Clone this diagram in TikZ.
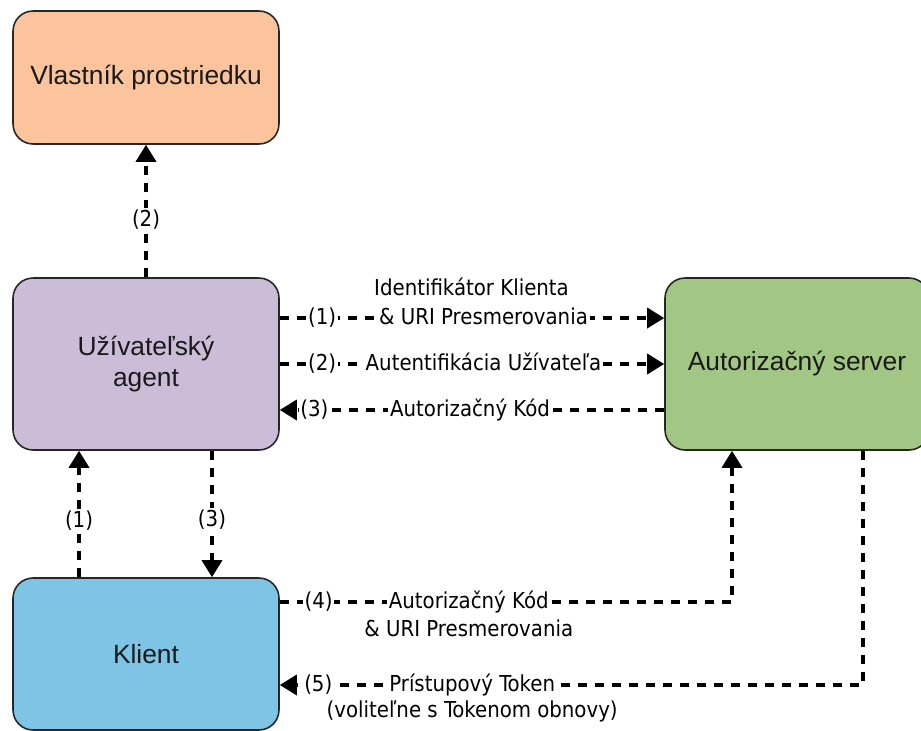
\documentclass[tikz,border=0pt]{standalone}
\usepackage{fontspec}
\setmainfont{Liberation Sans}
\newfontfamily\lblfont{DejaVu Sans Condensed}
\usetikzlibrary{arrows.meta,positioning}

\definecolor{ownerfill}{HTML}{FBC49C}
\definecolor{agentfill}{HTML}{CBBDD8}
\definecolor{serverfill}{HTML}{A2C683}
\definecolor{clientfill}{HTML}{7EC4E4}

\begin{document}
\begin{tikzpicture}
[
x=0.02cm, y=-0.02cm,
actor/.style={draw=black!85, line width=0.9pt, rounded corners=0.4cm,
              minimum width=5.32cm, align=center, text=black!90,
              font=\fontsize{15}{18}\selectfont},
flow/.style={line width=2pt, dash pattern=on 0.19cm off 0.15cm,
             -{Triangle[width=0.4cm,length=0.34cm]}},
lbl/.style={fill=white, inner sep=1pt, text height=9.5pt, text depth=2.5pt,
            font=\lblfont\fontsize{12.5}{15}\selectfont},
lbltxt/.style={lbl, fill=none},
]
\useasboundingbox (0,0) rectangle (921,731);

%Place the nodes
\node[actor, fill=ownerfill, minimum height=2.66cm] (owner) at (146,77.5) {Vlastník prostriedku};
\node[actor, fill=agentfill, minimum height=3.44cm] (agent) at (146,364) {Užívateľský\\agent};
\node[actor, fill=serverfill, minimum height=3.44cm, minimum width=5.28cm] (server) at (797,364) {Autorizačný server};
\node[actor, fill=clientfill, minimum height=3.04cm] (client) at (146,654) {Klient};

%Agent and owner
\draw[flow] (agent.north) -- (owner.south) node[lbl, pos=0.43] {(2)};

%Client and agent
\draw[flow] ([xshift=-1.34cm]client.north) -- ([xshift=-1.34cm]agent.south) node[lbl, pos=0.44] {(1)};
\draw[flow] ([xshift=1.32cm]agent.south) -- ([xshift=1.32cm]client.north) node[lbl, pos=0.55] {(3)};

%Agent and server
\draw[flow] ([yshift=0.92cm]agent.east) -- ([yshift=0.92cm]agent.east -| server.west)
  node[lbl, pos=0.11] {(1)}
  node[lbl, pos=0.53] (uri1) {\& URI Presmerovania};
\node[lbltxt, above=1pt of uri1, xshift=-0.24cm] (id1) {Identifikátor Klienta};
\draw[flow] (agent.east) -- (agent.east -| server.west)
  node[lbl, pos=0.11] {(2)}
  node[lbl, pos=0.53] {Autentifikácia Užívateľa};
\draw[flow] ([yshift=-0.92cm]server.west) -- ([yshift=-0.92cm]server.west -| agent.east)
  node[lbl, pos=0.91] {(3)}
  node[lbl, pos=0.505] {Autorizačný Kód};

%Client and server
\draw[flow] ([yshift=1.04cm]client.east) -| ([xshift=-1.3cm]server.south)
  node[lbl, pos=0.043] {(4)}
  node[lbl, pos=0.209] (code4) {Autorizačný Kód};
\node[lbltxt, below=1pt of code4] (uri4) {\& URI Presmerovania};
\draw[flow] ([xshift=1.32cm]server.south) |- ([yshift=-0.62cm]client.east)
  node[lbl, pos=0.967] {(5)}
  node[lbl, pos=0.835] (token5) {Prístupový Token};
\node[lbltxt, below=0pt of token5] (opt5) {(voliteľne s Tokenom obnovy)};
\end{tikzpicture}
\end{document}
